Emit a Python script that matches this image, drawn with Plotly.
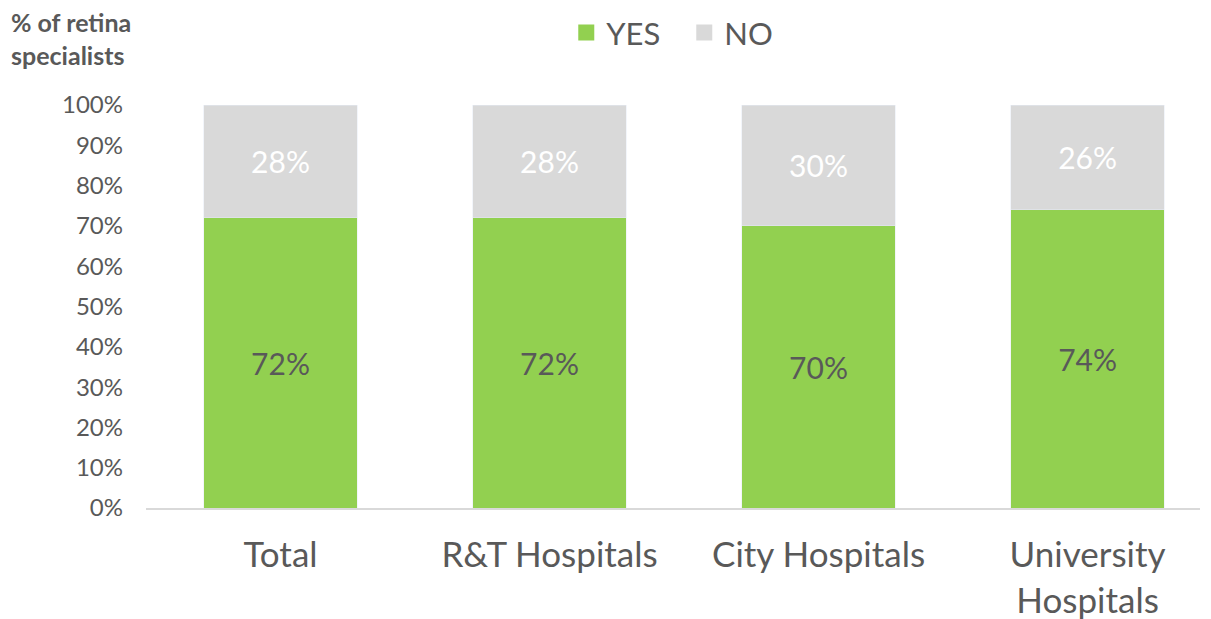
import plotly.graph_objects as go

categories = ["Total", "R&T Hospitals", "City Hospitals", "University<br>Hospitals"]
yes_share = [0.72, 0.72, 0.70, 0.74]
no_share = [0.28, 0.28, 0.30, 0.26]
y_ticks = [0, 0.1, 0.2, 0.3, 0.4, 0.5, 0.6, 0.7, 0.8, 0.9, 1.0]

_GREEN = "#92D050"
_GREY = "#D9D9D9"
_INK = "#595959"
_FONT = "Lato, Open Sans, sans-serif"

fig = go.Figure()
fig.add_trace(go.Bar(
    x=categories, y=yes_share, name="YES", marker_color=_GREEN, width=0.57,
    text=[f"{v:.0%}" for v in yes_share], textposition="inside",
    insidetextanchor="middle", textangle=0, showlegend=False,
    textfont={"size": 32, "color": _INK, "family": _FONT},
))
fig.add_trace(go.Bar(
    x=categories, y=no_share, name="NO", marker_color=_GREY, width=0.57,
    text=[f"{v:.0%}" for v in no_share], textposition="inside",
    insidetextanchor="middle", textangle=0, showlegend=False,
    textfont={"size": 30, "color": "white", "family": _FONT},
))
# legend-only entries so the swatches come out as big squares
for name, color in (("YES", _GREEN), ("NO", _GREY)):
    fig.add_trace(go.Scatter(
        x=[None], y=[None], mode="markers", name=name,
        marker={"symbol": "square", "size": 20, "color": color},
    ))

fig.add_annotation(
    text="<b>% of retina<br>specialists</b>", xref="paper", yref="paper",
    x=-0.13, y=1.166, xanchor="left", yanchor="middle", align="left",
    showarrow=False, font={"size": 25, "color": _INK, "family": _FONT},
)

fig.update_layout(
    barmode="stack",
    width=1211, height=619,
    paper_bgcolor="white", plot_bgcolor="white",
    font={"family": _FONT, "color": _INK},
    margin={"l": 138, "r": 19, "t": 97, "b": 119, "autoexpand": False},
    uniformtext={"mode": "show", "minsize": 10},
    legend={
        "orientation": "h", "xref": "container", "yref": "container",
        "x": 0.461, "xanchor": "left", "y": 0.960, "yanchor": "middle",
        "font": {"size": 31, "color": _INK},
        "itemwidth": 30, "traceorder": "normal",
        "entrywidth": 73, "entrywidthmode": "pixels",
    },
    xaxis={
        "range": [-0.5, 3.418], "showgrid": False, "showline": True,
        "linecolor": _GREY, "linewidth": 2, "ticks": "", "automargin": False,
        "tickfont": {"size": 35, "color": _INK}, "ticklabelstandoff": 15,
    },
    yaxis={
        "range": [0, 1], "tickvals": y_ticks, "tickformat": ".0%",
        "showgrid": False, "zeroline": False, "showline": False,
        "automargin": False,
        "tickfont": {"size": 24, "color": _INK}, "ticklabelstandoff": 22,
    },
)

fig.write_html("out.html")
